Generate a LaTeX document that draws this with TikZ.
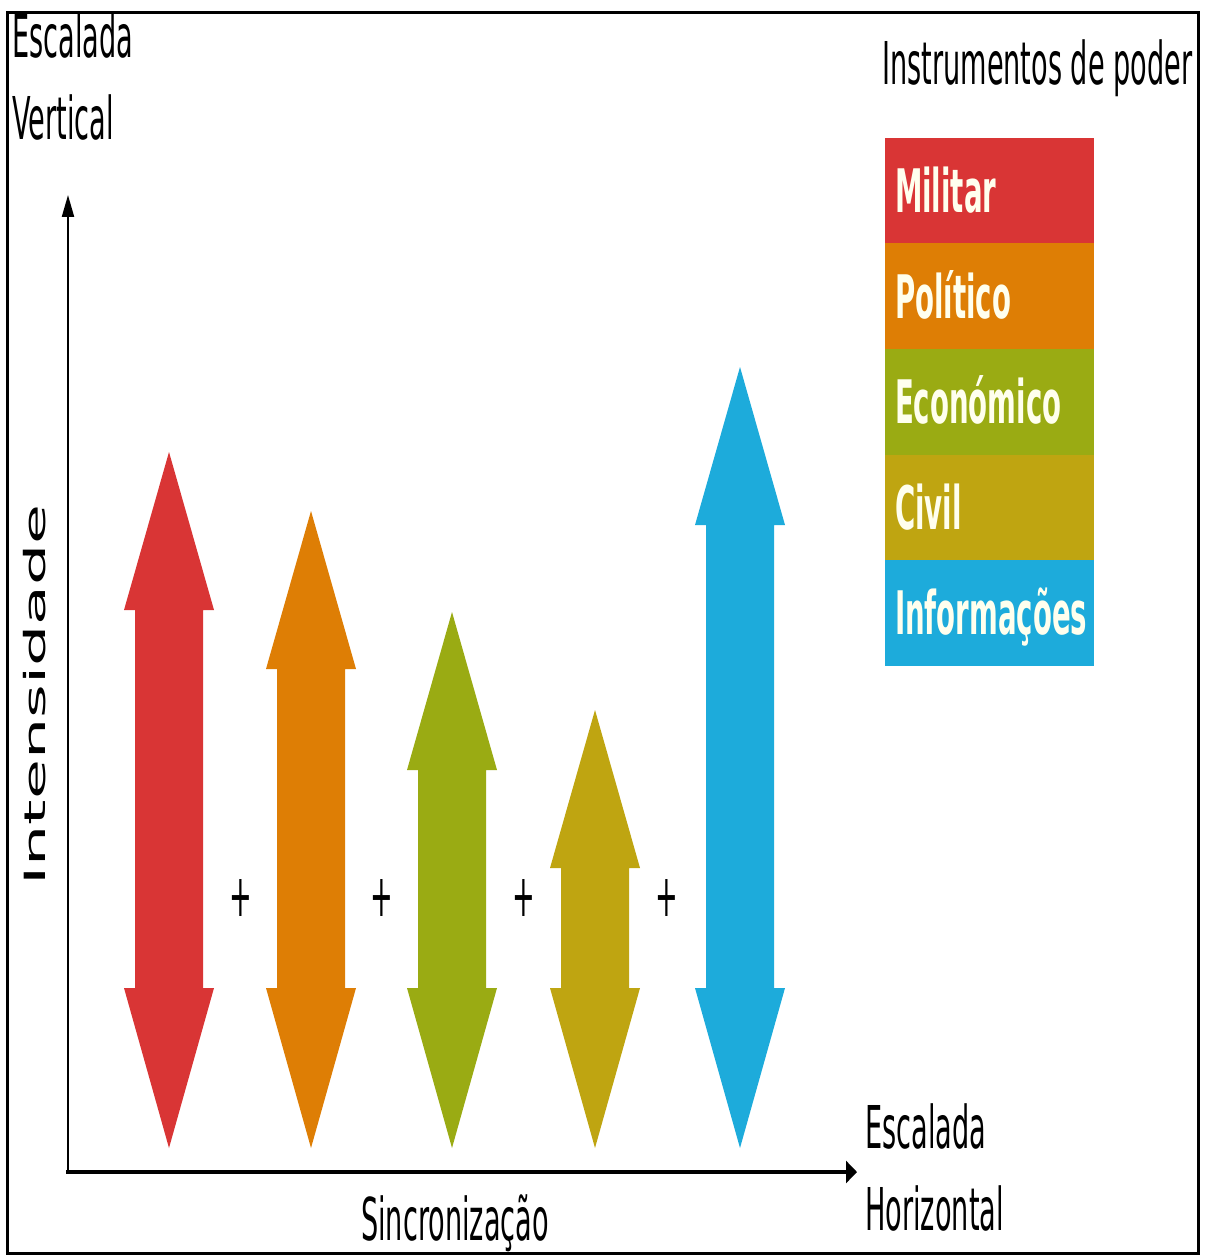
\documentclass[tikz,border=0pt]{standalone}
\usepackage{fontspec}
\setmainfont{DejaVu Sans}[FakeStretch=0.46]
\newfontfamily\plainfont{DejaVu Sans}
\usetikzlibrary{positioning, arrows.meta}

\definecolor{cmil}{HTML}{D93535}
\definecolor{cpol}{HTML}{DE7E05}
\definecolor{ceco}{HTML}{9AAB13}
\definecolor{cciv}{HTML}{BFA511}
\definecolor{cinf}{HTML}{1DABDB}
\definecolor{ctxt}{HTML}{FFFFEE}

\tikzset{
  txt/.style={inner sep=0pt, font=\fontsize{59}{82}\selectfont},
  legendbox/.style={rectangle, fill=#1, draw=#1, line width=0.6pt,
    minimum width=208pt, minimum height=105pt,
    inner xsep=10pt, inner ysep=0pt, text width=188pt, align=left,
    text height=44pt, text depth=0pt, text=ctxt,
    font=\bfseries\fontsize{60}{70}\selectfont},
}

\begin{document}
\begin{tikzpicture}[x=1pt, y=-1pt]
        \useasboundingbox (0,0) rectangle (1210,1257);
        \draw[line width=3pt] (7,13) rectangle (1198,1253);
        % axes
        \coordinate (o) at (68,1172);
        \coordinate (ytip) at (68,195);
        \coordinate (xtip) at (857,1172);
        \draw[line width=2.2pt, -{Triangle[length=22pt,width=12pt]}] (o) -- (ytip);
        \draw[line width=4pt, -{Triangle[length=11pt,width=22pt]}] (66,1172) -- (xtip);
        \node[txt, anchor=base west] (escv) at (12,58) {Escalada};
        \node[txt, anchor=base west] (vert) at (12,140) {Vertical};
        \node[txt, anchor=base west] (esch) at (865,1148) {Escalada};
        \node[txt, anchor=base west] (horiz) at (865,1230) {Horizontal};
        \node[txt, anchor=base] (sinc) at (455,1240) {Sincronização};
        \node[rotate=90, inner sep=0pt] (intens) at (35,695)
            {\scalebox{1}[0.45]{\plainfont\fontsize{65}{70}\selectfont Intensidade}};
        % double arrows
        \foreach \cx/\tip/\col in {169/452/cmil, 311/511/cpol, 452/612/ceco, 595/710/cciv, 740/367/cinf}{
            \fill[\col] (\cx,\tip) -- (\cx+45,\tip+158) -- (\cx+34,\tip+158) -- (\cx+34,988)
                -- (\cx+45,988) -- (\cx,1148) -- (\cx-45,988) -- (\cx-34,988)
                -- (\cx-34,\tip+158) -- (\cx-45,\tip+158) -- cycle;
        }
        \foreach \px [count=\i] in {241,382,524,667}
            \node[txt] (plus\i) at (\px,898) {+};
        % legend
        \node[txt, anchor=base west] (instr) at (882,85) {Instrumentos de poder};
        \node[legendbox=cmil] (mil) at (989,190.5) {Militar};
        \node[legendbox=cpol, below=0pt of mil] (pol) {Político};
        \node[legendbox=ceco, below=0pt of pol] (eco) {Económico};
        \node[legendbox=cciv, below=0pt of eco] (civ) {Civil};
        \node[legendbox=cinf, below=0pt of civ] (inf) {Informações};
\end{tikzpicture}
\end{document}
